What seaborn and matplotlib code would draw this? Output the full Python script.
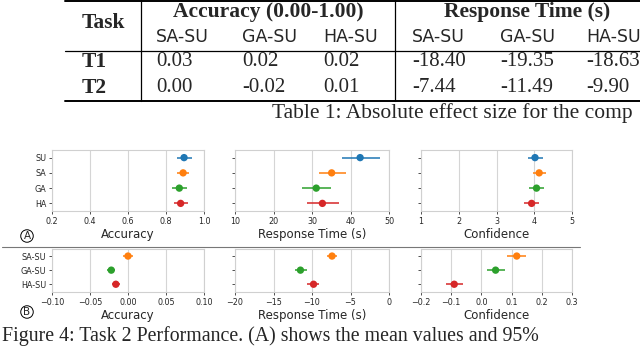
import numpy as np
import pandas as pd
import seaborn as sns
import matplotlib.pyplot as plt
from matplotlib.lines import Line2D

# Table 1: absolute effect sizes
table_cols = ["SA-SU", "GA-SU", "HA-SU"]
table_tasks = ["T1", "T2"]
acc_effect = [["0.03", "0.02", "0.02"], ["0.00", "-0.02", "0.01"]]
rt_effect = [["-18.40", "-19.35", "-18.63"], ["-7.44", "-11.49", "-9.90"]]

# Figure 4 (A): mean and 95% CI per condition
conditions = ["SU", "SA", "GA", "HA"]
cond_colors = ["#1f77b4", "#ff7f0e", "#2ca02c", "#d62728"]
acc_mean = [0.895, 0.89, 0.87, 0.877]
acc_lo = [0.857, 0.86, 0.833, 0.844]
acc_hi = [0.937, 0.92, 0.909, 0.914]
rt_mean = [42.5, 35.1, 31.1, 32.7]
rt_lo = [37.7, 31.8, 27.4, 28.7]
rt_hi = [47.7, 38.8, 35.0, 36.9]
conf_mean = [4.02, 4.13, 4.06, 3.93]
conf_lo = [3.83, 3.97, 3.87, 3.74]
conf_hi = [4.22, 4.30, 4.26, 4.13]

# Figure 4 (B): differences to SU
diffs = ["SA-SU", "GA-SU", "HA-SU"]
diff_colors = ["#ff7f0e", "#2ca02c", "#d62728"]
dacc_mean = [0.0, -0.022, -0.016]
dacc_lo = [-0.006, -0.028, -0.021]
dacc_hi = [0.006, -0.017, -0.011]
drt_mean = [-7.4, -11.5, -9.8]
drt_lo = [-8.1, -12.2, -10.6]
drt_hi = [-6.7, -10.7, -9.05]
dconf_mean = [0.117, 0.047, -0.09]
dconf_lo = [0.086, 0.018, -0.117]
dconf_hi = [0.148, 0.078, -0.06]

sns.set_theme(style="whitegrid")
plt.rcParams["font.family"] = ["DejaVu Sans"]

W, H = 640, 352
fig = plt.figure(figsize=(W / 100, H / 100), dpi=100)


def fx(px):
    return px / W


def fy(py):
    return 1 - py / H


def draw_panel(rect, labels, mean, lo, hi, colors, xlim, xticks, xlabel, show_labels, ypad):
    ax = fig.add_axes(rect)
    df = pd.DataFrame({"label": labels, "mean": mean, "lo": lo, "hi": hi})
    pos = np.arange(len(labels))
    ax.hlines(pos, df["lo"], df["hi"], colors=colors, lw=1.1, zorder=2)
    sns.scatterplot(data=df, x="mean", y=pos, hue="label", palette=colors,
                    s=28, linewidth=0, legend=False, ax=ax, zorder=3)
    ax.set_xlim(xlim)
    ax.set_xticks(xticks)
    ax.set_yticks(pos)
    ax.set_yticklabels(labels if show_labels else [])
    ax.set_ylim(len(labels) - 1 + ypad, -0.5)
    ax.grid(axis="y", visible=False)
    ax.grid(axis="x", color="#d5d5d5", lw=0.8)
    ax.tick_params(axis="both", labelsize=5.8, length=2.5, width=0.6,
                   pad=1.5, bottom=True, left=True, color="#333333")
    for s in ax.spines.values():
        s.set_color("#d0d0d0")
        s.set_linewidth(0.8)
    ax.set_xlabel(xlabel, fontsize=8.5, labelpad=1.5)
    ax.set_ylabel("")
    return ax


lefts = [52, 235, 421]
widths = [152, 154, 151]
top_rect = lambda i: [fx(lefts[i]), fy(211), fx(widths[i]), 61 / H]
bot_rect = lambda i: [fx(lefts[i]), fy(292), fx(widths[i]), 43 / H]

draw_panel(top_rect(0), conditions, acc_mean, acc_lo, acc_hi, cond_colors,
           (0.2, 1.0), [0.2, 0.4, 0.6, 0.8, 1.0], "Accuracy", True, 0.5)
draw_panel(top_rect(1), conditions, rt_mean, rt_lo, rt_hi, cond_colors,
           (10, 50), [10, 20, 30, 40, 50], "Response Time (s)", False, 0.5)
draw_panel(top_rect(2), conditions, conf_mean, conf_lo, conf_hi, cond_colors,
           (1, 5), [1, 2, 3, 4, 5], "Confidence", False, 0.5)

draw_panel(bot_rect(0), diffs, dacc_mean, dacc_lo, dacc_hi, diff_colors,
           (-0.1, 0.1), [-0.10, -0.05, 0.0, 0.05, 0.10], "Accuracy", True, 0.55)
draw_panel(bot_rect(1), diffs, drt_mean, drt_lo, drt_hi, diff_colors,
           (-20, 0), [-20, -15, -10, -5, 0], "Response Time (s)", False, 0.55)
draw_panel(bot_rect(2), diffs, dconf_mean, dconf_lo, dconf_hi, diff_colors,
           (-0.2, 0.3), [-0.2, -0.1, 0.0, 0.1, 0.2, 0.3], "Confidence", False, 0.55)

# panel markers (circled letters) and separator
for letter, y in [("A", 236), ("B", 312)]:
    fig.text(fx(27), fy(y), letter, fontsize=7.5, ha="center", va="center",
             bbox=dict(boxstyle="circle,pad=0.12", fc="white", ec="black", lw=0.7))
fig.add_artist(Line2D([fx(2), fx(580)], [fy(247), fy(247)], color="#777777", lw=0.8))

# Table 1 drawn as text
serif = "Liberation Serif"
for y, lw in [(0.8, 1.4), (51, 0.9), (101, 1.4)]:
    fig.add_artist(Line2D([fx(65), fx(640)], [fy(y), fy(y)], color="black", lw=lw))
for x in [140.5, 395]:
    fig.add_artist(Line2D([fx(x), fx(x)], [fy(0), fy(101)], color="black", lw=0.9))

fig.text(fx(103), fy(23), "Task", fontsize=15.5, family=serif, weight="bold", ha="center", va="center")
fig.text(fx(268), fy(12), "Accuracy (0.00-1.00)", fontsize=15.5, family=serif, weight="bold", ha="center", va="center")
fig.text(fx(527), fy(12), "Response Time (s)", fontsize=15.5, family=serif, weight="bold", ha="center", va="center")

acc_x = [156, 242, 323]
rt_x = [412, 500, 586]
for j, c in enumerate(table_cols):
    fig.text(fx(acc_x[j]), fy(37), c, fontsize=12.5, ha="left", va="center")
    fig.text(fx(rt_x[j]), fy(37), c, fontsize=12.5, ha="left", va="center")

row_y = [62, 88]
for i, t in enumerate(table_tasks):
    fig.text(fx(82), fy(row_y[i]), t, fontsize=15.5, family=serif, weight="bold", ha="left", va="center")
    for j in range(3):
        fig.text(fx(acc_x[j]), fy(row_y[i]), acc_effect[i][j], fontsize=15, family=serif, ha="left", va="center")
        fig.text(fx(rt_x[j]), fy(row_y[i]), rt_effect[i][j], fontsize=15, family=serif, ha="left", va="center")

fig.text(fx(272), fy(113), "Table 1: Absolute effect size for the comp",
         fontsize=15.5, family=serif, ha="left", va="center")
fig.text(fx(2), fy(336), "Figure 4: Task 2 Performance. (A) shows the mean values and 95%",
         fontsize=14.3, family=serif, ha="left", va="center")

fig.savefig("out.png", dpi=100)
